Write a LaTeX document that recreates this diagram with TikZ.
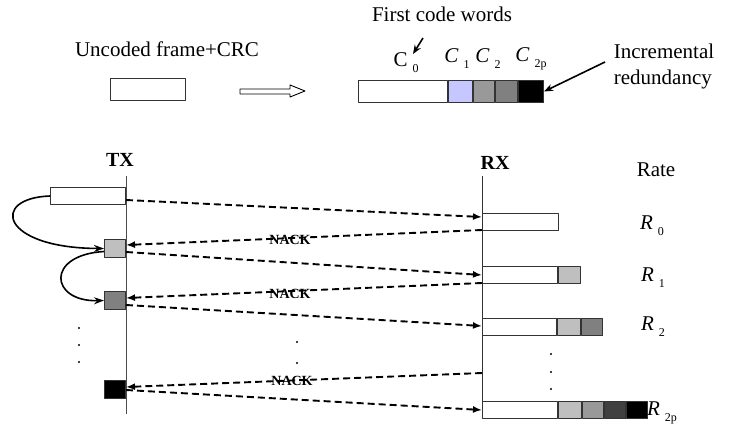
\documentclass[tikz,border=0pt]{standalone}
\usepackage{fontspec}
\setmainfont{Liberation Serif}
\usetikzlibrary{arrows.meta}
\usetikzlibrary{positioning}
\definecolor{paleblue}{rgb}{0.78,0.78,1}
\definecolor{grayA}{gray}{0.75}
\definecolor{grayB}{gray}{0.6}
\definecolor{grayC}{gray}{0.5}
\definecolor{grayD}{gray}{0.25}
\newcommand{\idx}[2]{#1\hspace{5pt}\raisebox{-6pt}{\fontsize{12}{14}\selectfont #2}}
\tikzset{
  cell/.style={draw=black!80, line width=1pt, inner sep=0pt, minimum height=17pt},
  msg/.style={line width=1.9pt, dash pattern=on 7pt off 4pt, -{Latex[length=9pt,width=7pt]}},
  nack/.style={font=\fontsize{14}{16}\selectfont\bfseries, inner sep=0pt},
  loopback/.style={line width=1.6pt, -{Stealth[length=10pt,width=7pt]}}
}

\begin{document}
\begin{tikzpicture}[line cap=butt,line join=round,x=1pt,y=-1pt,font=\fontsize{21}{25}\selectfont]
\useasboundingbox (0,0) rectangle (749,428);
% coding of one frame
\node (uncoded) at (167,49) {Uncoded frame+CRC};
\node[cell, minimum width=75pt, minimum height=22pt, anchor=north west] (frame) at (110,78) {};
\draw[line width=0.9pt] (240,89) -- (290,89) -- (290,85) -- (305,91) -- (290,97) -- (290,94) -- (240,94) -- cycle;
\node (first) at (442,14) {First code words};
\node[cell, minimum width=89pt, minimum height=22pt, anchor=north west] (c0) at (358,80) {};
\node[cell, minimum width=24pt, minimum height=22pt, fill=paleblue, right=0pt of c0] (c1) {};
\node[cell, minimum width=21pt, minimum height=22pt, fill=grayB, right=0pt of c1] (c2) {};
\node[cell, minimum width=22pt, minimum height=22pt, fill=grayC, right=0pt of c2] (c3) {};
\node[cell, minimum width=25pt, minimum height=22pt, fill=black, right=0pt of c3] (c4) {};
\node (lc0) at (406,63) {\idx{C}{0}};
\node (lc1) at (457,59) {\idx{\textit{C}}{1}};
\node (lc2) at (488,59) {\idx{\textit{C}}{2}};
\node (lc3) at (531,59) {\idx{\textit{C}}{2p}};
\coordinate (pc0) at (423,38);
\coordinate (qc0) at (413,54);
\draw[line width=1.6pt, -{Stealth[length=9pt,width=7pt]}] (pc0) -- (qc0);
\node[align=left, inner sep=0pt] (incr) at (664,66) {Incremental\\[1pt]redundancy};
\coordinate (pinc) at (605,62);
\draw[line width=1.6pt, -{Stealth[length=9pt,width=7pt]}] (pinc) -- (c4.east);
% transmitter and receiver
\node[font=\fontsize{20}{24}\selectfont\bfseries] (tx) at (120,160) {TX};
\node[font=\fontsize{20}{24}\selectfont\bfseries] (rx) at (495,163) {RX};
\node (rate) at (656,170) {Rate};
\draw[black!70, line width=1pt] (126,176) -- (126,414);
\draw[black!80, line width=1pt] (482,176) -- (482,418);
\node[cell, minimum width=75pt, anchor=north east] (t0) at (126,187) {};
\node[cell, minimum width=21pt, minimum height=18pt, fill=grayA, anchor=north east] (t1) at (126,239) {};
\node[cell, minimum width=21pt, minimum height=18pt, fill=grayC, anchor=north east] (t2) at (126,291) {};
\node[cell, minimum width=21pt, minimum height=18pt, fill=black, anchor=north east] (tp) at (126,380) {};
\draw[loopback] (t0.west) .. controls (-10,198) and (0,248) .. (t1.west);
\draw[loopback] ([yshift=-3pt]t1.west) .. controls (45,255) and (50,302) .. (t2.west);
% received words
\node[cell, minimum width=76pt, anchor=north west] (r0) at (482,213) {};
\node[cell, minimum width=75pt, anchor=north west] (r1) at (482,266) {};
\node[cell, minimum width=22pt, fill=grayA, right=0pt of r1] (r1a) {};
\node[cell, minimum width=74pt, anchor=north west] (r2) at (482,318) {};
\node[cell, minimum width=23pt, fill=grayA, right=0pt of r2] (r2a) {};
\node[cell, minimum width=21pt, fill=grayC, right=0pt of r2a] (r2b) {};
\node[cell, minimum width=75pt, anchor=north west] (rp) at (482,401) {};
\node[cell, minimum width=23pt, fill=grayA, right=0pt of rp] (rpa) {};
\node[cell, minimum width=21pt, fill=grayB, right=0pt of rpa] (rpb) {};
\node[cell, minimum width=21pt, fill=grayD, right=0pt of rpb] (rpc) {};
\node[cell, minimum width=21pt, fill=black, right=0pt of rpc] (rpd) {};
\node (lr0) at (652,226) {\idx{\textit{R}}{0}};
\node (lr1) at (653,278) {\idx{\textit{R}}{1}};
\node (lr2) at (653,327) {\idx{\textit{R}}{2}};
\node (lrp) at (662,413) {\idx{\textit{R}}{2p}};
% messages
\coordinate (tx0) at (126,200);
\coordinate (tx1n) at (126,245);
\coordinate (tx1) at (126,252);
\coordinate (tx2n) at (126,298);
\coordinate (tx2) at (126,305);
\coordinate (txpn) at (126,387);
\coordinate (txp) at (126,390);
\coordinate (rx0) at (482,217);
\coordinate (rx0n) at (482,230);
\coordinate (rx1) at (482,275);
\coordinate (rx1n) at (482,283);
\coordinate (rx2) at (482,326);
\coordinate (rxpn) at (482,373);
\coordinate (rxp) at (482,410);
\draw[msg] (tx0) -- (rx0);
\draw[msg] (rx0n) -- (tx1n);
\draw[msg] (tx1) -- (rx1);
\draw[msg] (rx1n) -- (tx2n);
\draw[msg] (tx2) -- (rx2);
\draw[msg] (rxpn) -- (txpn);
\draw[msg] (txp) -- (rxp);
\node[nack] (n0) at (290,240) {NACK};
\node[nack] (n1) at (290,294) {NACK};
\node[nack] (np) at (292,381) {NACK};
\foreach \y in {328,345,362}
\fill (79,\y) circle (1.1pt);
\foreach \y in {342,363}
\fill (297,\y) circle (1.1pt);
\foreach \y in {354,372,389}
\fill (551,\y) circle (1.1pt);
\end{tikzpicture}
\end{document}
